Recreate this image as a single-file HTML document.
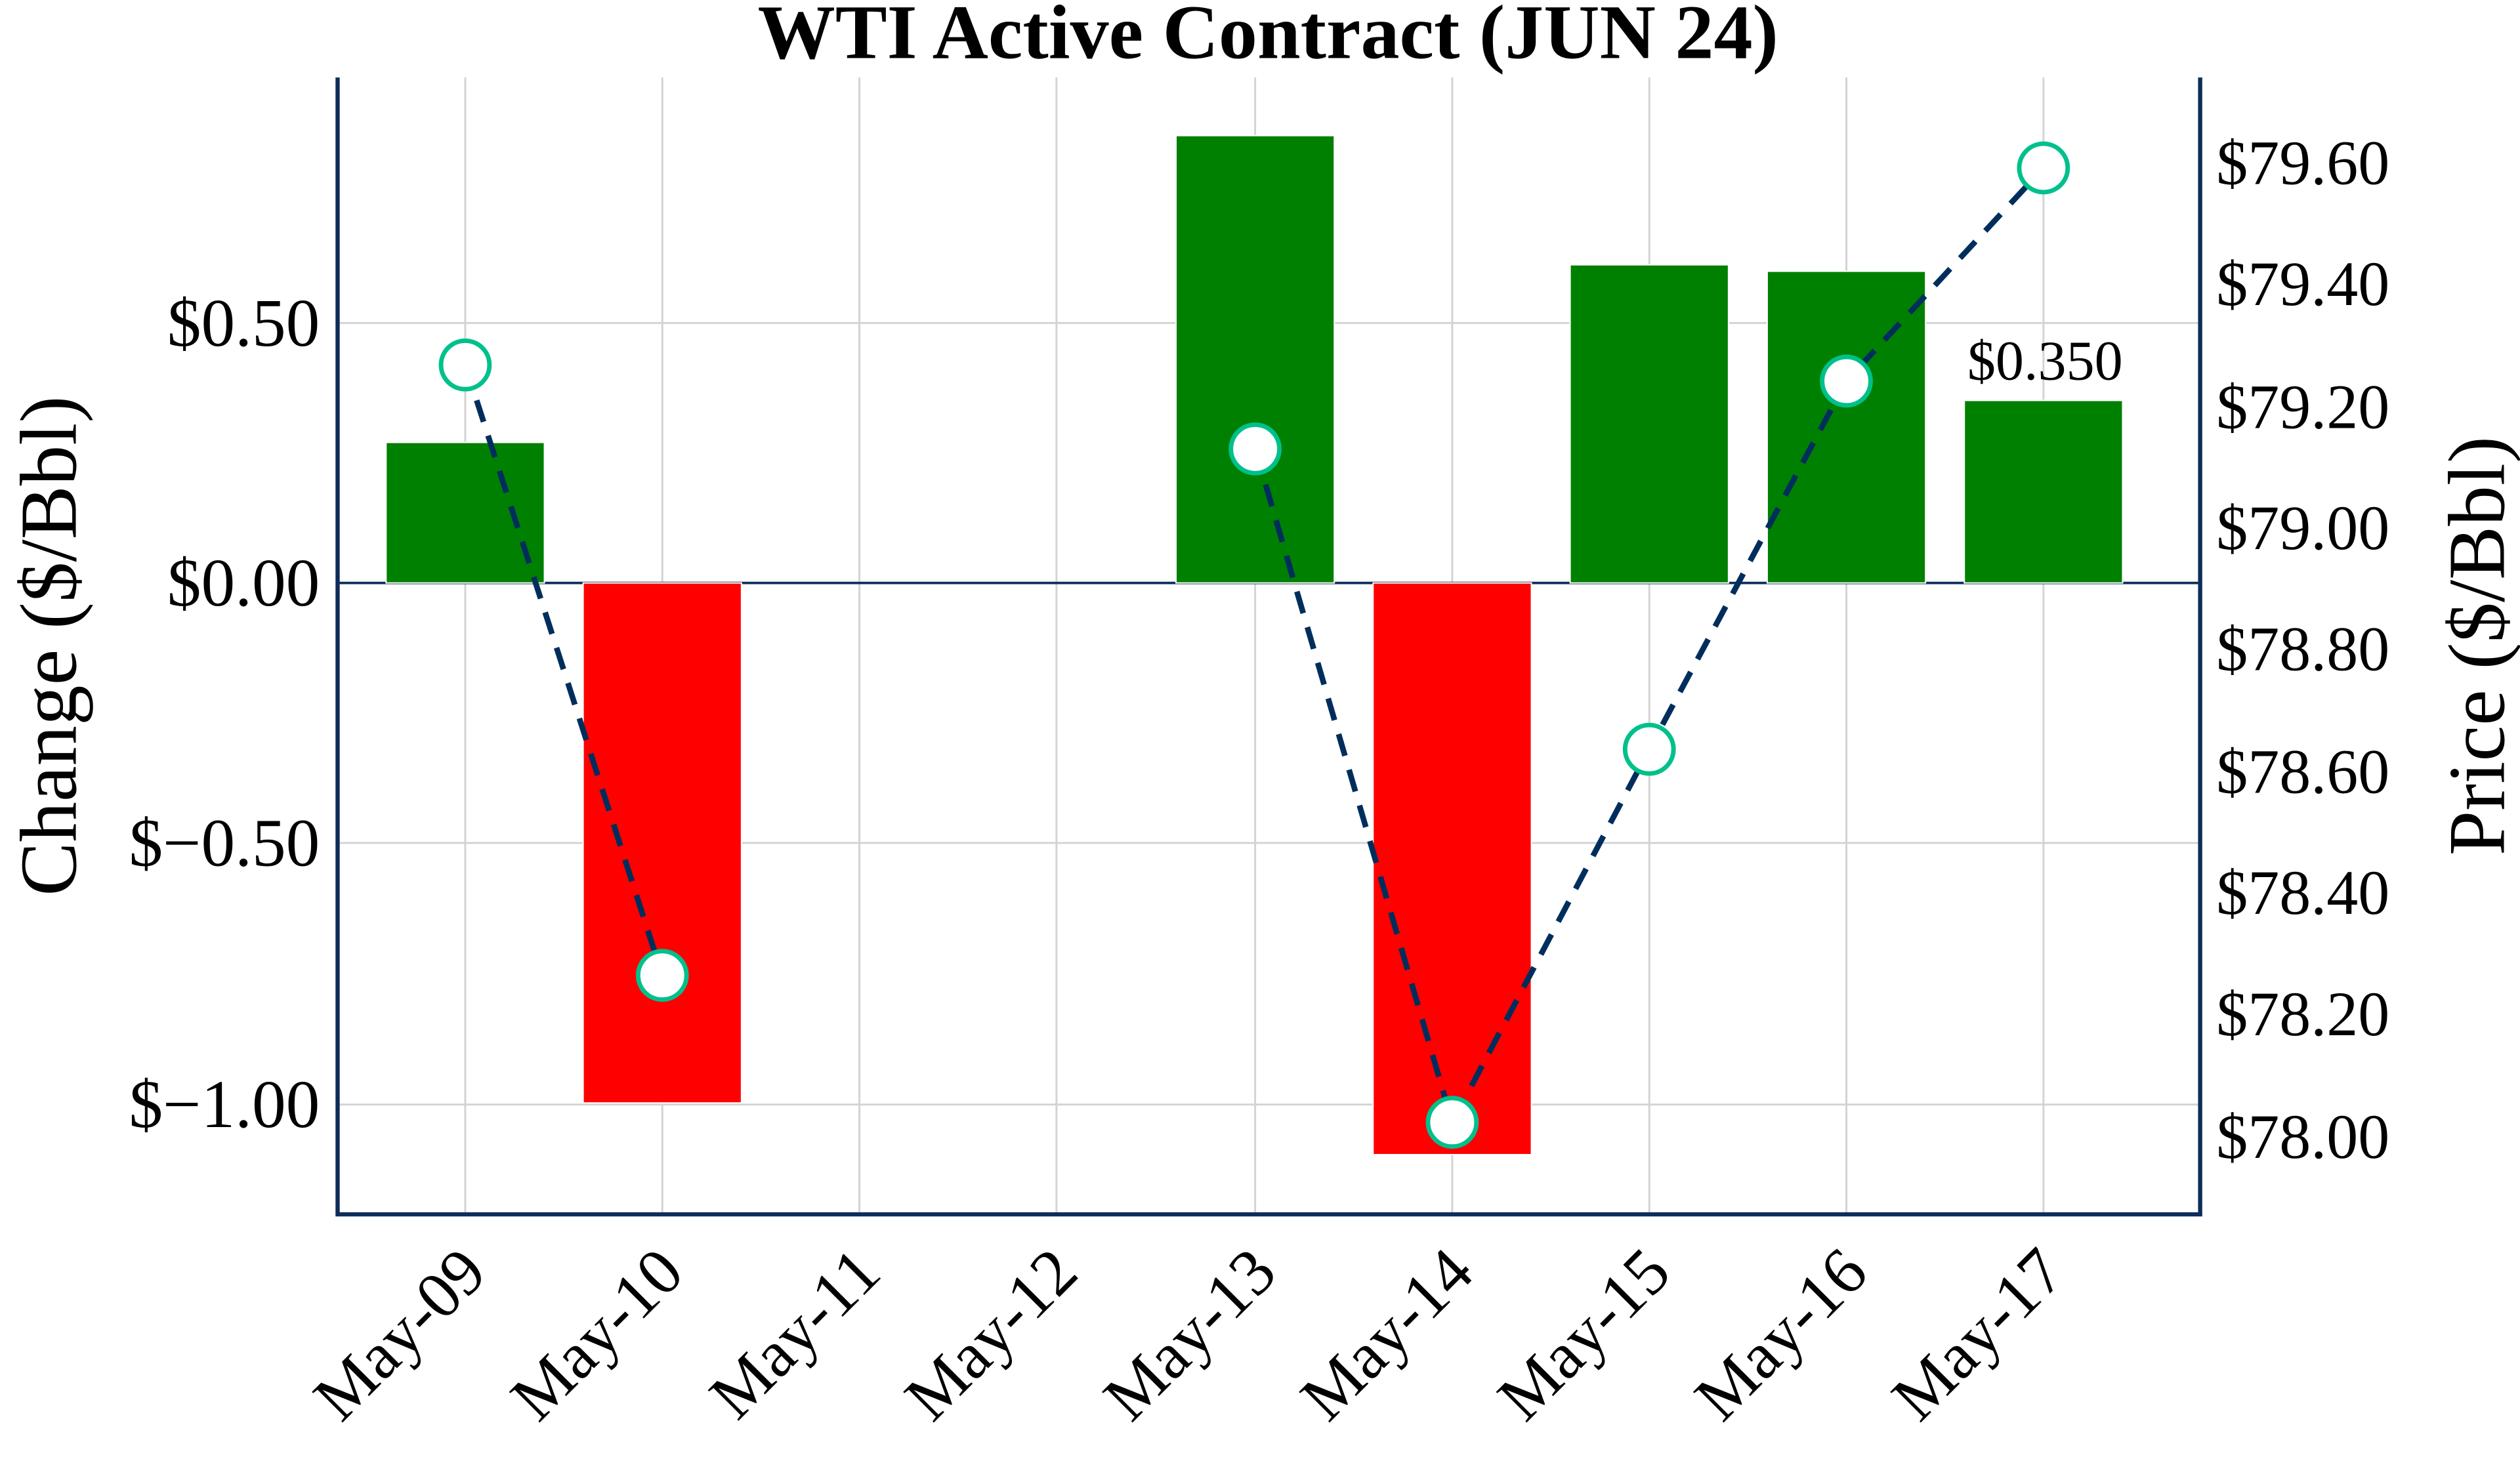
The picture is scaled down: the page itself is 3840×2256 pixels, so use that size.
<!DOCTYPE html>
<html><head><meta charset="utf-8"><style>
html,body{margin:0;padding:0;background:#fff;}
svg{display:block;}
text{font-family:"Liberation Serif","Times New Roman",serif;fill:#000;}
</style></head><body>
<svg width="3840" height="2256" viewBox="0 0 1560 916.5" xmlns="http://www.w3.org/2000/svg">
<rect width="1560" height="916.5" fill="#fff"/>
<g stroke="#d3d3d3" stroke-width="1.2">
<line x1="288" y1="48" x2="288" y2="752"/>
<line x1="410" y1="48" x2="410" y2="752"/>
<line x1="532" y1="48" x2="532" y2="752"/>
<line x1="654" y1="48" x2="654" y2="752"/>
<line x1="777" y1="48" x2="777" y2="752"/>
<line x1="899" y1="48" x2="899" y2="752"/>
<line x1="1021" y1="48" x2="1021" y2="752"/>
<line x1="1143" y1="48" x2="1143" y2="752"/>
<line x1="1265" y1="48" x2="1265" y2="752"/>
<line x1="209" y1="200" x2="1362" y2="200"/>
<line x1="209" y1="522" x2="1362" y2="522"/>
<line x1="209" y1="684" x2="1362" y2="684"/>
</g>
<line x1="209" y1="361" x2="1362" y2="361" stroke="#0d2d5a" stroke-width="1.5"/>
<g stroke="#fff" stroke-width="0.8">
<rect x="239" y="274" width="98" height="87" fill="#008000"/>
<rect x="361" y="361" width="98" height="322" fill="#ff0000"/>
<rect x="728" y="84" width="98" height="277" fill="#008000"/>
<rect x="850" y="361" width="98" height="354" fill="#ff0000"/>
<rect x="972" y="164" width="98" height="197" fill="#008000"/>
<rect x="1094" y="168" width="98" height="193" fill="#008000"/>
<rect x="1216" y="248" width="98" height="113" fill="#008000"/>
</g>
<text x="1266" y="235" font-size="35" text-anchor="middle">$0.350</text>
<g fill="none" stroke="#002e5c" stroke-width="3.5" stroke-dasharray="14,9">
<polyline points="288,226 410,604"/>
<polyline points="777,278 899,695 1021,464 1143,236 1265,104"/>
</g>
<g fill="#fff" stroke="#00c08b" stroke-width="2.8">
<circle cx="288" cy="226" r="15"/>
<circle cx="410" cy="604" r="15"/>
<circle cx="777" cy="278" r="15"/>
<circle cx="899" cy="695" r="15"/>
<circle cx="1021" cy="464" r="15"/>
<circle cx="1143" cy="236" r="15"/>
<circle cx="1265" cy="104" r="15"/>
</g>
<g stroke="#0d2d5a" stroke-width="2.6" fill="none">
<polyline points="209,48 209,752 1362,752 1362,48"/>
</g>
<text x="785" y="36" font-size="48" font-weight="bold" text-anchor="middle">WTI Active Contract (JUN 24)</text>
<g font-size="42" text-anchor="end">
<text x="198" y="214">$0.50</text>
<text x="198" y="375">$0.00</text>
<text x="198" y="536">$−0.50</text>
<text x="198" y="698">$−1.00</text>
</g>
<g font-size="39">
<text x="1372" y="114">$79.60</text>
<text x="1372" y="189">$79.40</text>
<text x="1372" y="265">$79.20</text>
<text x="1372" y="340">$79.00</text>
<text x="1372" y="415">$78.80</text>
<text x="1372" y="491">$78.60</text>
<text x="1372" y="566">$78.40</text>
<text x="1372" y="641">$78.20</text>
<text x="1372" y="717">$78.00</text>
</g>
<text transform="translate(47,400) rotate(-90)" font-size="50" text-anchor="middle">Change ($/Bbl)</text>
<text transform="translate(1550,400) rotate(-90)" font-size="50" text-anchor="middle">Price ($/Bbl)</text>
<g font-size="41" text-anchor="end">
<text transform="translate(303,790) rotate(-45)">May-09</text>
<text transform="translate(425,790) rotate(-45)">May-10</text>
<text transform="translate(547,790) rotate(-45)">May-11</text>
<text transform="translate(669,790) rotate(-45)">May-12</text>
<text transform="translate(792,790) rotate(-45)">May-13</text>
<text transform="translate(914,790) rotate(-45)">May-14</text>
<text transform="translate(1036,790) rotate(-45)">May-15</text>
<text transform="translate(1158,790) rotate(-45)">May-16</text>
<text transform="translate(1280,790) rotate(-45)">May-17</text>
</g>
</svg>
</body></html>
